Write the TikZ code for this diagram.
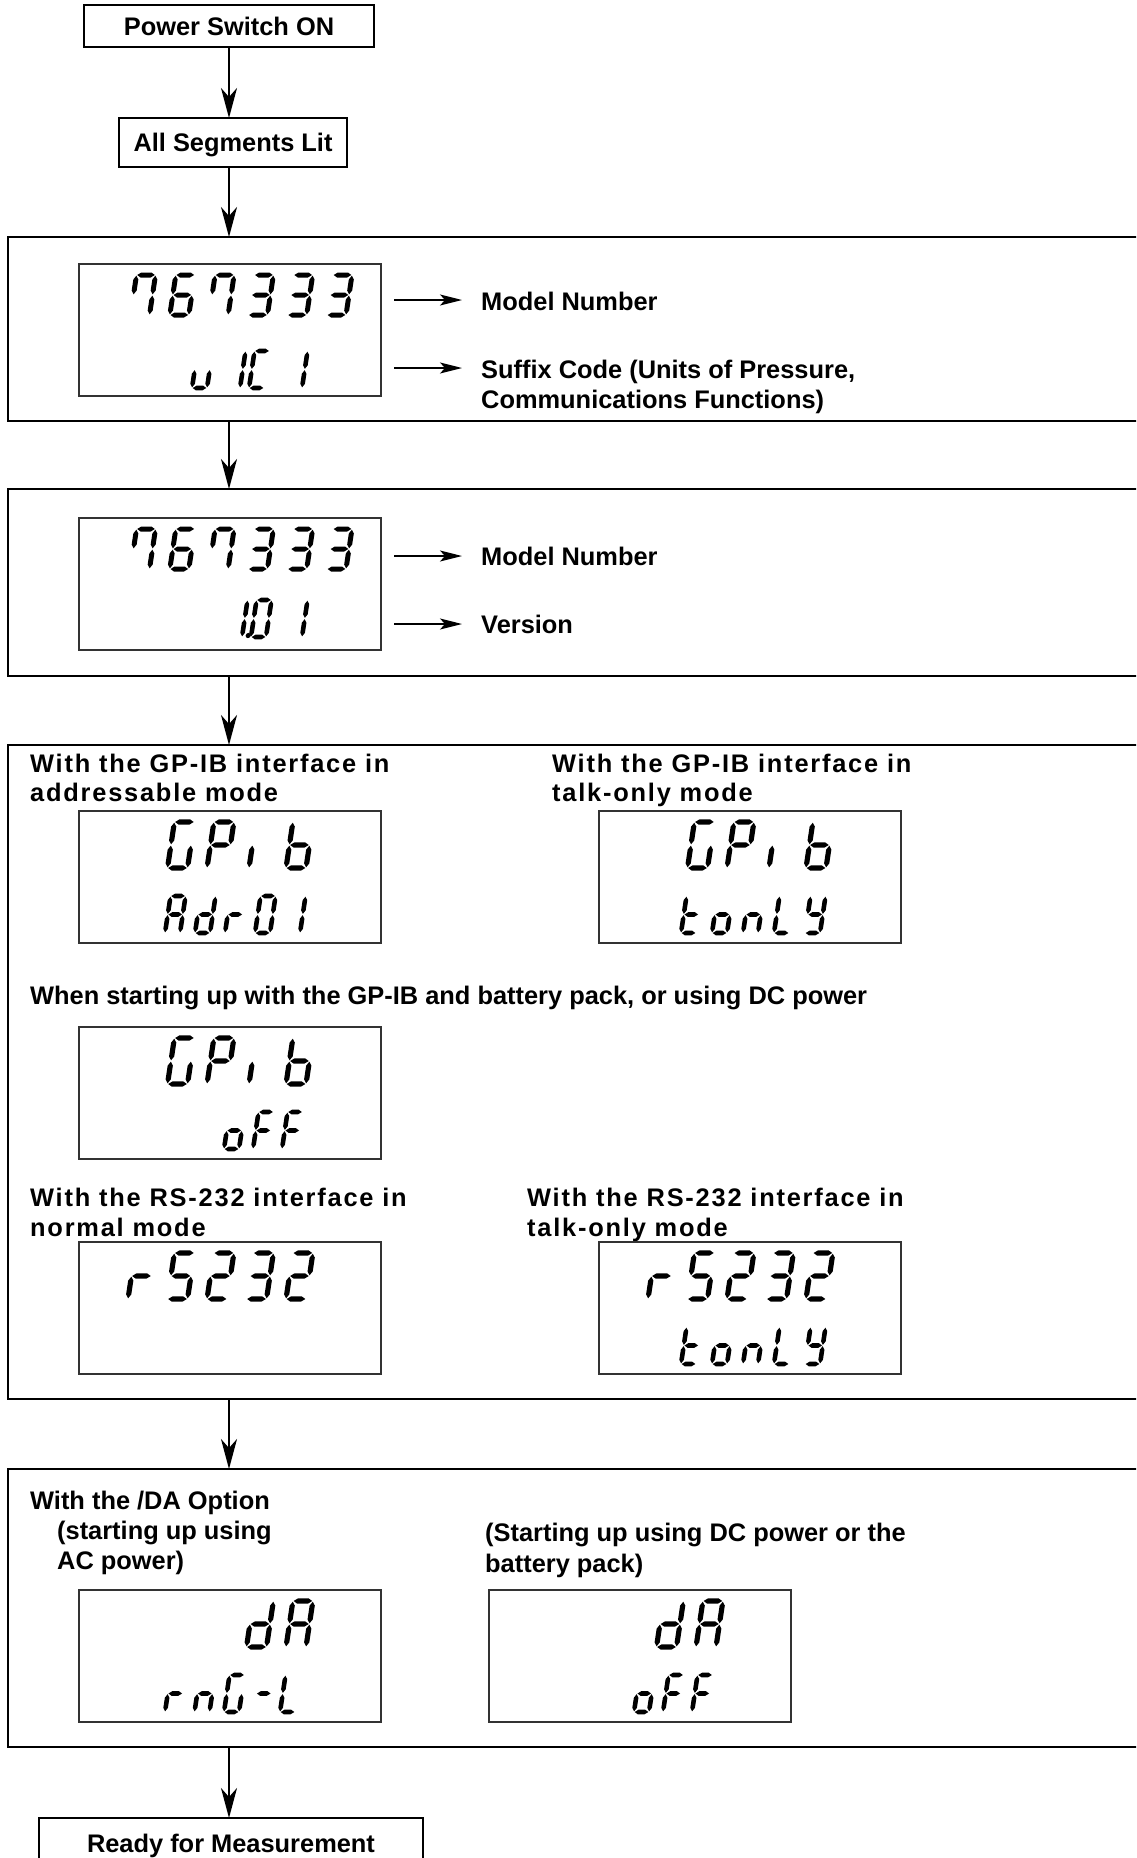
\documentclass[tikz,border=0pt]{standalone}
\usepackage{fontspec}
\setmainfont{Liberation Sans}
\newfontfamily\spacedfont[LetterSpace=7]{Liberation Sans}
\usetikzlibrary{arrows.meta}

\newcommand\segh{40}
\newcommand\segw{16}
\newcommand\segt{4.5}
\newcommand\segg{0.7}
\newcommand\segk{0.75}
\newcommand\segs{0.15}

% spindle-shaped segments: tip, taper (= segk * thickness), flat middle
\newcommand\hseg[1]{\fill ({\segg},{-(#1)}) -- ({\segg+\segk*\segt},{-(#1)-\segt/2}) -- ({\segw-\segg-\segk*\segt},{-(#1)-\segt/2}) -- ({\segw-\segg},{-(#1)}) -- ({\segw-\segg-\segk*\segt},{-(#1)+\segt/2}) -- ({\segg+\segk*\segt},{-(#1)+\segt/2}) -- cycle;}
\newcommand\vseg[3]{\fill ({#1},{-(#2)-\segg}) -- ({#1+\segt/2},{-(#2)-\segg-\segk*\segt}) -- ({#1+\segt/2},{-(#3)+\segg+\segk*\segt}) -- ({#1},{-(#3)+\segg}) -- ({#1-\segt/2},{-(#3)+\segg+\segk*\segt}) -- ({#1-\segt/2},{-(#2)-\segg-\segk*\segt}) -- cycle;}

\newcommand\SegA{\hseg{\segh}}
\newcommand\SegG{\hseg{\segh/2}}
\newcommand\SegD{\hseg{0}}
\newcommand\SegB{\vseg{\segw}{\segh/2}{\segh}}
\newcommand\SegC{\vseg{\segw}{0}{\segh/2}}
\newcommand\SegE{\vseg{0}{0}{\segh/2}}
\newcommand\SegF{\vseg{0}{\segh/2}{\segh}}
\newcommand\SegP{\fill ({\segw+6},{-1.5}) circle (2.6);}

\newcommand\sch[3]{\begin{scope}[shift={(#1,#2)},xslant=\segs]\foreach \q in #3 {\csname Seg\q\endcsname}\end{scope}}

\newcommand\svZero{A,B,C,D,E,F}
\newcommand\svOne{B,C}
\newcommand\svOneDot{B,C,P}
\newcommand\svTwo{A,B,G,E,D}
\newcommand\svThree{A,B,G,C,D}
\newcommand\svFive{A,F,G,C,D}
\newcommand\svSix{A,F,G,E,D,C}
\newcommand\svSeven{A,B,C,F}
\newcommand\svu{C,D,E}
\newcommand\svC{A,F,E,D}
\newcommand\svG{A,F,E,D,C}
\newcommand\svP{A,B,F,G,E}
\newcommand\svi{E}
\newcommand\svb{F,E,D,C,G}
\newcommand\svA{A,B,C,E,F,G}
\newcommand\svd{B,C,D,E,G}
\newcommand\svr{E,G}
\newcommand\svo{C,D,E,G}
\newcommand\svF{A,F,G,E}
\newcommand\svt{F,E,D,G}
\newcommand\svn{C,E,G}
\newcommand\svL{F,E,D}
\newcommand\svY{B,C,D,F,G}
\newcommand\svDash{G}

\newcommand\bigrow{\renewcommand\segh{46}\renewcommand\segw{20}\renewcommand\segt{5.2}}
\newcommand\smallrow{\renewcommand\segh{37}\renewcommand\segw{15}\renewcommand\segt{4.6}}
\newcommand\modelrow{\renewcommand\segh{40}\renewcommand\segw{19}\renewcommand\segt{5.0}}

\newcommand\modelnumber{%
  \modelrow
  \sch{51.5}{51}{\svSeven}\sch{90.8}{51}{\svSix}\sch{130.1}{51}{\svSeven}%
  \sch{169.4}{51}{\svThree}\sch{208.7}{51}{\svThree}\sch{248}{51}{\svThree}}
\newcommand\gpibrow{%
  \bigrow
  \sch{88.5}{57}{\svG}\sch{128}{57}{\svP}\sch{170}{57}{\svi}\sch{207}{57}{\svb}}
\newcommand\rsrow{%
  \bigrow
  \sch{49}{57}{\svr}\sch{88.5}{57}{\svFive}\sch{128}{57}{\svTwo}\sch{167.5}{57}{\svThree}\sch{207}{57}{\svTwo}}
\newcommand\darow{%
  \bigrow
  \sch{167.5}{57}{\svd}\sch{207}{57}{\svA}}
\newcommand\offrow{%
  \smallrow
  \sch{145}{122}{\svo}\sch{174}{122}{\svF}\sch{203}{122}{\svF}}
\newcommand\tonlyrow{%
  \smallrow
  \sch{82}{122}{\svt}\sch{113}{122}{\svo}\sch{144}{122}{\svn}\sch{175}{122}{\svL}\sch{206}{122}{\svY}}

\tikzset{
  every node/.style={font=\fontsize{25.4}{30}\selectfont\bfseries},
  tbox/.style={draw, line width=2, inner sep=0, outer sep=0, text height=18, text depth=0},
  frame/.style={draw, line width=2, inner sep=0, outer sep=0, anchor=north west, minimum width=1200},
  dispbox/.style={draw=black!80, line width=1.4, inner sep=0, outer sep=0, anchor=north west, minimum width=302, minimum height=132},
  lbl/.style={anchor=base west, inner sep=0},
  slbl/.style={anchor=base west, inner sep=0, font=\spacedfont\fontsize{25.4}{30}\selectfont\bfseries},
  arr/.style={line width=2, -{Stealth[length=30, width=16, inset=9]}},
  larr/.style={line width=1.6, -{Stealth[length=22, width=11, inset=5]}}
}

\begin{document}
\begin{tikzpicture}[x=1pt,y=-1pt]
\clip (0,0) rectangle (1136,1858);
\fill[white] (0,0) rectangle (1136,1858);

% top boxes
\node[tbox, minimum width=290, minimum height=42] (pw) at (229,26) {Power Switch ON};
\node[tbox, minimum width=228, minimum height=49] (as) at (233,142.5) {All Segments Lit};

% frames
\node[frame, minimum height=183.5] (f1) at (8,237) {};
\node[frame, minimum height=187] (f2) at (8,489) {};
\node[frame, minimum height=654] (f3) at (8,745) {};
\node[frame, minimum height=278] (f4) at (8,1469) {};

\node[tbox, minimum width=384, minimum height=50] (rd) at (231,1843) {Ready for Measurement};

% main arrows
\draw[arr] (pw.south) -- (pw.south |- as.north);
\draw[arr] (pw.south |- as.south) -- (pw.south |- f1.north);
\draw[arr] (pw.south |- f1.south) -- (pw.south |- f2.north);
\draw[arr] (pw.south |- f2.south) -- (pw.south |- f3.north);
\draw[arr] (pw.south |- f3.south) -- (pw.south |- f4.north);
\draw[arr] (pw.south |- f4.south) -- (pw.south |- rd.north);

% frame 1
\node[dispbox] (d1) at (79,264) {};
\begin{scope}[shift={(79,264)}]
  \modelnumber
  \smallrow
  \sch{113}{124}{\svu}\sch{146}{124}{\svOne}\sch{170}{124}{\svC}\sch{208}{124}{\svOne}
\end{scope}
\coordinate (a1s) at (394,300); \coordinate (a1e) at (462,300);
\coordinate (a2s) at (394,368); \coordinate (a2e) at (462,368);
\draw[larr] (a1s) -- (a1e);
\draw[larr] (a2s) -- (a2e);
\node[lbl] (l1) at (481,310) {Model Number};
\node[lbl] (l2) at (481,378) {Suffix Code (Units of Pressure,};
\node[lbl] (l2b) at (481,408) {Communications Functions)};

% frame 2
\node[dispbox] (d2) at (79,518) {};
\begin{scope}[shift={(79,518)}]
  \modelnumber
  \smallrow
  \sch{148}{119}{\svOneDot}\sch{172}{119}{\svZero}\sch{208}{119}{\svOne}
\end{scope}
\coordinate (b1s) at (394,556); \coordinate (b1e) at (462,556);
\coordinate (b2s) at (394,624); \coordinate (b2e) at (462,624);
\draw[larr] (b1s) -- (b1e);
\draw[larr] (b2s) -- (b2e);
\node[lbl] (l3) at (481,565) {Model Number};
\node[lbl] (l4) at (481,633) {Version};

% frame 3
\node[slbl] (t1) at (30,772) {With the GP-IB interface in};
\node[slbl] (t1b) at (30,801) {addressable mode};
\node[slbl] (t2) at (552,772) {With the GP-IB interface in};
\node[slbl] (t2b) at (552,801) {talk-only mode};
\node[dispbox] (d3a) at (79,811) {};
\begin{scope}[shift={(79,811)}]
  \gpibrow
  \smallrow
  \sch{86}{122}{\svA}\sch{116}{122}{\svd}\sch{146}{122}{\svr}\sch{176}{122}{\svZero}\sch{206}{122}{\svOne}
\end{scope}
\node[dispbox] (d3b) at (599,811) {};
\begin{scope}[shift={(599,811)}]
  \gpibrow
  \tonlyrow
\end{scope}
\node[lbl] (t3) at (30,1004) {When starting up with the GP-IB and battery pack, or using DC power};
\node[dispbox] (d3c) at (79,1027) {};
\begin{scope}[shift={(79,1027)}]
  \gpibrow
  \offrow
\end{scope}
\node[slbl] (t4) at (30,1206) {With the RS-232 interface in};
\node[slbl] (t4b) at (30,1236) {normal mode};
\node[slbl] (t5) at (527,1206) {With the RS-232 interface in};
\node[slbl] (t5b) at (527,1236) {talk-only mode};
\node[dispbox] (d3d) at (79,1242) {};
\begin{scope}[shift={(79,1242)}]
  \rsrow
\end{scope}
\node[dispbox] (d3e) at (599,1242) {};
\begin{scope}[shift={(599,1242)}]
  \rsrow
  \tonlyrow
\end{scope}

% frame 4
\node[lbl] (u1) at (30,1509) {With the /DA Option};
\node[lbl] (u1b) at (57,1539) {(starting up using};
\node[lbl] (u1c) at (57,1569) {AC power)};
\node[lbl] (u2) at (485,1541) {(Starting up using DC power or the};
\node[lbl] (u2b) at (485,1572) {battery pack)};
\node[dispbox] (d4a) at (79,1590) {};
\begin{scope}[shift={(79,1590)}]
  \darow
  \smallrow
  \sch{86}{122}{\svr}\sch{115.5}{122}{\svn}\sch{145}{122}{\svG}\sch{174.5}{122}{\svDash}\sch{201}{122}{\svL}
\end{scope}
\node[dispbox] (d4b) at (489,1590) {};
\begin{scope}[shift={(489,1590)}]
  \darow
  \offrow
\end{scope}
\end{tikzpicture}
\end{document}
